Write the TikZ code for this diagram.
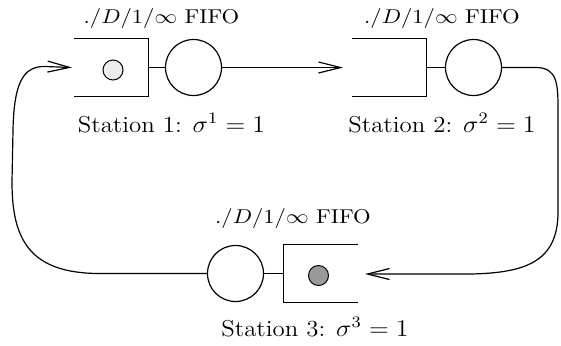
\documentclass[tikz,border=0pt]{standalone}
\usetikzlibrary{arrows.meta}
\newcommand{\fifotext}{\scalebox{1.13}[1]{$./D/1/\infty$ FIFO}}
\newcommand{\sttext}[1]{\scalebox{1.08}[1]{Station #1: $\sigma^{#1}=1$}}
\begin{document}
\begin{tikzpicture}[x=0.5pt,y=-0.5pt,
  every path/.style={line width=0.6pt},
  server/.style={circle,draw,line width=0.6pt,minimum size=28pt,inner sep=0pt},
  queue/.style={rectangle,minimum width=36.5pt,minimum height=28.5pt,inner sep=0pt},
  job/.style={circle,draw,line width=0.5pt,minimum size=10pt,inner sep=0pt},
  arr/.style={-{Straight Barb[length=11pt,width=5.5pt,line width=0.6pt]}},
  fifolbl/.style={inner sep=0pt,font=\fontsize{10}{12}\selectfont},
  stlbl/.style={inner sep=0pt,font=\fontsize{11.5}{13}\selectfont}]
\useasboundingbox (0,0) rectangle (561,345);
% station 1
\node[queue] (q1) at (111.5,67.5) {};
\node[job,fill=black!7] (j1) at (113,70) {};
\node[server] (s1) at (193.5,67.5) {};
\draw (q1.north west) -- (q1.north east) -- (q1.south east) -- (q1.south west);
\draw (q1.east) -- (s1.west);
\node[fifolbl] (f1) at (161.5,18) {\fifotext};
\node[stlbl] (l1) at (171.5,123) {\sttext{1}};
% station 2
\node[queue] (q2) at (389,67.5) {};
\node[server] (s2) at (473.5,67.5) {};
\draw (q2.north west) -- (q2.north east) -- (q2.south east) -- (q2.south west);
\draw (q2.east) -- (s2.west);
\node[fifolbl] (f2) at (442,18) {\fifotext};
\node[stlbl] (l2) at (442,123) {\sttext{2}};
% station 3
\node[queue] (q3) at (320.5,273.5) {};
\node[job,fill=black!40] (j3) at (318.5,275.5) {};
\node[server] (s3) at (235.5,273.5) {};
\draw (q3.north east) -- (q3.north west) -- (q3.south west) -- (q3.south east);
\draw (q3.west) -- (s3.east);
\node[fifolbl] (f3) at (293,218) {\fifotext};
\node[stlbl] (l3) at (315,327) {\sttext{3}};
% connectors
\coordinate (in1) at (72,67.5);
\coordinate (in2) at (343,67.5);
\coordinate (in3) at (365,274);
\draw[arr] (s1.east) -- (in2);
\draw[arr] (s2.east) -- (536,67.5) .. controls (558,67.5) and (558,85) .. (558,112)
  -- (558,212) .. controls (558,262) and (525,273) .. (470,274) -- (in3);
\draw[arr] (s3.west) -- (100,273.5) .. controls (30,273.5) and (12,240) .. (12,182)
  -- (13,130) .. controls (14,85) and (22,66) .. (45,66.5) -- (in1);
\end{tikzpicture}
\end{document}
